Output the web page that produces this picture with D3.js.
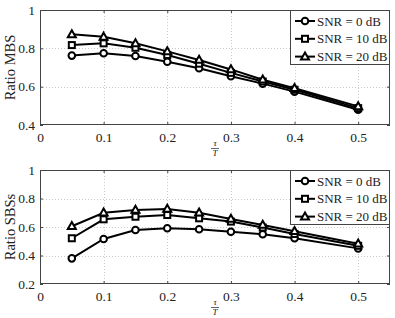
<!DOCTYPE html>
<html>
<head>
<meta charset="utf-8">
<script src="https://cdn.jsdelivr.net/npm/d3@7"></script>
<style>
  body { margin: 0; background: #fff; }
  svg text { font-family: "Liberation Serif", "Times New Roman", serif; }
</style>
</head>
<body>
<div id="my_plot"></div>
<script>
var width = 395, height = 318;

// data
var tau = [0.05, 0.1, 0.15, 0.2, 0.25, 0.3, 0.35, 0.4, 0.5];
var seriesNames = ["SNR = 0 dB", "SNR = 10 dB", "SNR = 20 dB"];
var mbs0 = [0.762, 0.774, 0.760, 0.730, 0.696, 0.654, 0.616, 0.574, 0.480];
var mbs10 = [0.817, 0.826, 0.803, 0.765, 0.720, 0.672, 0.627, 0.584, 0.488];
var mbs20 = [0.873, 0.860, 0.826, 0.784, 0.739, 0.690, 0.636, 0.592, 0.497];
var sbs0 = [0.380, 0.516, 0.579, 0.591, 0.584, 0.567, 0.549, 0.521, 0.450];
var sbs10 = [0.521, 0.654, 0.672, 0.684, 0.661, 0.638, 0.596, 0.551, 0.468];
var sbs20 = [0.605, 0.700, 0.719, 0.726, 0.700, 0.656, 0.614, 0.570, 0.483];
var xTicks = [0, 0.1, 0.2, 0.3, 0.4, 0.5];
var yTicksTop = [0.4, 0.6, 0.8, 1];
var yTicksBottom = [0.2, 0.4, 0.6, 0.8, 1];
var markers = ["circle", "square", "triangle"];

var svg = d3.select("#my_plot")
  .append("svg")
    .attr("width", width)
    .attr("height", height);

function drawMarker(g, type, cx, cy) {
  if (type == "circle") {
    g.append("circle").attr("cx", cx).attr("cy", cy).attr("r", 3.3)
      .attr("fill", "#fff").attr("stroke", "#000").attr("stroke-width", 2);
  } else if (type == "square") {
    g.append("rect").attr("x", cx - 3).attr("y", cy - 3).attr("width", 6).attr("height", 6)
      .attr("fill", "#fff").attr("stroke", "#000").attr("stroke-width", 2);
  } else {
    g.append("path")
      .attr("d", "M" + cx + "," + (cy - 4.2) + "L" + (cx + 4) + "," + (cy + 2.8) + "L" + (cx - 4) + "," + (cy + 2.8) + "Z")
      .attr("fill", "#fff").attr("stroke", "#000").attr("stroke-width", 2)
      .attr("stroke-linejoin", "miter");
  }
}

function panel(top, bottom, yDomain, yTicks, series, ylabel) {
  var left = 40, right = 390;
  var x = d3.scaleLinear().domain([0, 0.55]).range([left, right]);
  var y = d3.scaleLinear().domain(yDomain).range([bottom, top]);
  var g = svg.append("g");

  // grid
  g.selectAll(".gx").data(xTicks.filter(function(d){ return d > 0; })).enter()
    .append("line")
      .attr("x1", function(d){ return Math.round(x(d)) + 0.5; })
      .attr("x2", function(d){ return Math.round(x(d)) + 0.5; })
      .attr("y1", top).attr("y2", bottom)
      .attr("stroke", "#bbb").attr("stroke-width", 0.8).attr("stroke-dasharray", "1,2");
  g.selectAll(".gy").data(yTicks.filter(function(d){ return d > yDomain[0] && d < yDomain[1]; })).enter()
    .append("line")
      .attr("x1", left).attr("x2", right)
      .attr("y1", function(d){ return Math.round(y(d)) + 0.5; })
      .attr("y2", function(d){ return Math.round(y(d)) + 0.5; })
      .attr("stroke", "#bbb").attr("stroke-width", 0.8).attr("stroke-dasharray", "1,2");

  // axes with inward ticks
  g.append("g")
    .attr("transform", "translate(0," + bottom + ")")
    .style("font-size", "13.5px")
    .call(d3.axisBottom(x).tickValues(xTicks).tickSizeInner(-3).tickSizeOuter(0).tickPadding(7)
      .tickFormat(function(d){ return d == 0 ? "0" : d3.format(".1f")(d); }))
    .call(function(a){ a.select(".domain").remove(); a.selectAll("text").attr("fill", "#222"); });
  g.append("g")
    .attr("transform", "translate(0," + top + ")")
    .call(d3.axisTop(x).tickValues(xTicks).tickSizeInner(-3).tickSizeOuter(0).tickFormat(""))
    .call(function(a){ a.select(".domain").remove(); });
  g.append("g")
    .attr("transform", "translate(" + left + ",0)")
    .style("font-size", "13.5px")
    .call(d3.axisLeft(y).tickValues(yTicks).tickSizeInner(-3).tickSizeOuter(0).tickPadding(5)
      .tickFormat(function(d){ return d == 1 ? "1" : d3.format(".1f")(d); }))
    .call(function(a){ a.select(".domain").remove(); a.selectAll("text").attr("fill", "#222"); });
  g.append("g")
    .attr("transform", "translate(" + right + ",0)")
    .call(d3.axisRight(y).tickValues(yTicks).tickSizeInner(-3).tickSizeOuter(0).tickFormat(""))
    .call(function(a){ a.select(".domain").remove(); });
  g.selectAll(".tick line").attr("stroke", "#444");

  g.append("rect")
    .attr("x", left + 0.5).attr("y", top + 0.5)
    .attr("width", right - left - 1).attr("height", bottom - top - 1)
    .attr("fill", "none").attr("stroke", "#444").attr("stroke-width", 1);

  // lines
  var line = d3.line()
    .x(function(d, i){ return x(tau[i]); })
    .y(function(d){ return y(d); });
  series.forEach(function(s, k) {
    g.append("path")
      .datum(s)
      .attr("d", line)
      .attr("fill", "none").attr("stroke", "#000").attr("stroke-width", 2);
  });
  series.forEach(function(s, k) {
    s.forEach(function(v, i) { drawMarker(g, markers[k], x(tau[i]), y(v)); });
  });

  // y label
  g.append("text")
    .attr("transform", "translate(15," + ((top + bottom) / 2) + ") rotate(-90)")
    .attr("text-anchor", "middle")
    .style("font-size", "14.5px")
    .attr("fill", "#222")
    .text(ylabel);

  // x label: tau over T
  var fx = 215;
  g.append("text").attr("x", fx).attr("y", bottom + 21).attr("text-anchor", "middle")
    .style("font-size", "9px").style("font-style", "italic").attr("fill", "#222").text("τ");
  g.append("line").attr("x1", fx - 4).attr("x2", fx + 4)
    .attr("y1", bottom + 23.5).attr("y2", bottom + 23.5)
    .attr("stroke", "#222").attr("stroke-width", 0.7);
  g.append("text").attr("x", fx).attr("y", bottom + 31).attr("text-anchor", "middle")
    .style("font-size", "9px").style("font-style", "italic").attr("fill", "#222").text("T");

  // legend
  var lg = g.append("g");
  lg.append("rect")
    .attr("x", 290.5).attr("y", top + 0.5).attr("width", 99).attr("height", 54)
    .attr("fill", "#fff").attr("stroke", "#444").attr("stroke-width", 1);
  seriesNames.forEach(function(name, k) {
    var ly = top + 11 + k * 17.8;
    lg.append("line").attr("x1", 295).attr("x2", 315).attr("y1", ly).attr("y2", ly)
      .attr("stroke", "#000").attr("stroke-width", 2);
    drawMarker(lg, markers[k], 305, ly);
    lg.append("text").attr("x", 317).attr("y", ly + 4.5)
      .style("font-size", "13px").attr("fill", "#222").text(name);
  });
}

panel(10, 125, [0.4, 1], yTicksTop, [mbs0, mbs10, mbs20], "Ratio MBS");
panel(170, 284, [0.2, 1], yTicksBottom, [sbs0, sbs10, sbs20], "Ratio SBSs");
</script>
</body>
</html>
